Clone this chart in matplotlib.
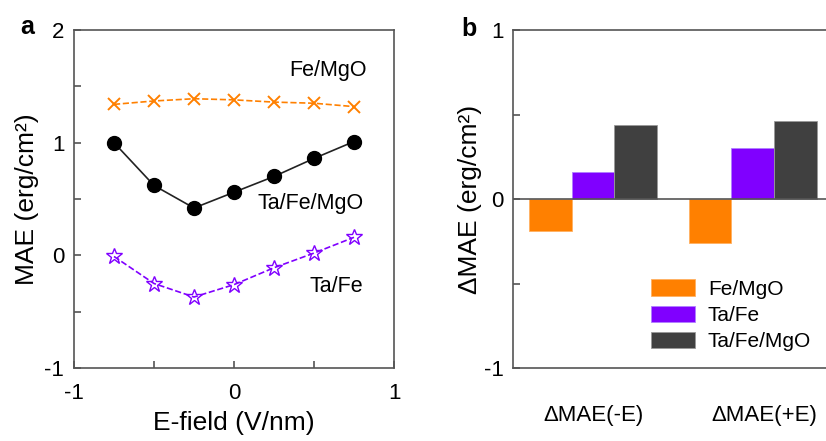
import numpy as np
import matplotlib
matplotlib.use('Agg')
from matplotlib import pyplot as plt
from matplotlib.ticker import MultipleLocator

plt.rcParams['font.family'] = ['Liberation Sans', 'DejaVu Sans']
plt.rcParams['axes.unicode_minus'] = False

# panel a data
efield = [-0.75, -0.5, -0.25, 0, 0.25, 0.5, 0.75]
mae_femgo = [1.34, 1.37, 1.39, 1.38, 1.36, 1.35, 1.32]
mae_tafemgo = [1.00, 0.62, 0.42, 0.56, 0.70, 0.86, 1.01]
mae_tafe = [-0.01, -0.25, -0.37, -0.26, -0.11, 0.02, 0.16]

# panel b data
groups = ['\u0394MAE(-E)', '\u0394MAE(+E)']
d_femgo = [-0.19, -0.26]
d_tafe = [0.16, 0.30]
d_tafemgo = [0.44, 0.46]

orange = '#FF8000'
purple = '#8000FF'
dark = '#404040'
spine_c = '#555555'

fig = plt.figure(figsize=(8.26, 4.41), dpi=100)
ax1 = fig.add_axes([74/826, 73/441, 320/826, 338/441])
ax2 = fig.add_axes([513.3/826, 73/441, 319.2/826, 338/441])

for ax in (ax1, ax2):
    for s in ax.spines.values():
        s.set_color(spine_c)
        s.set_linewidth(1.2)
    ax.tick_params(which='both', direction='in', color=spine_c, width=1.2,
                   labelsize=16)
    ax.tick_params(which='major', length=5)
    ax.tick_params(which='minor', length=5)

# ---- panel a ----
ax1.plot(efield, mae_femgo, ls='--', color=orange, marker='x', ms=9, mew=1.4, lw=1.2)
ax1.plot(efield, mae_tafemgo, ls='-', color='#222222', marker='o', ms=10,
         mfc='black', mec='black', lw=1.2)
ax1.plot(efield, mae_tafe, ls='--', color=purple, marker='*', ms=12,
         mfc='none', mec=purple, mew=1.0, lw=1.2)
ax1.set_xlim(-1, 1)
ax1.set_ylim(-1, 2)
ax1.xaxis.set_major_locator(MultipleLocator(1))
ax1.xaxis.set_minor_locator(MultipleLocator(0.5))
ax1.yaxis.set_major_locator(MultipleLocator(1))
ax1.yaxis.set_minor_locator(MultipleLocator(0.5))
ax1.tick_params(axis='x', which='both', pad=11)
ax1.tick_params(axis='y', which='both', pad=7)
ax1.set_xlabel('E-field (V/nm)', fontsize=19, labelpad=5)
ax1.set_ylabel('MAE (erg/cm\u00b2)', fontsize=19, labelpad=4)
ax1.text(0.83, 1.64, 'Fe/MgO', ha='right', va='center', fontsize=15.5)
ax1.text(0.81, 0.46, 'Ta/Fe/MgO', ha='right', va='center', fontsize=15.5)
ax1.text(0.81, -0.275, 'Ta/Fe', ha='right', va='center', fontsize=15.5)
fig.text(27/826, 1 - 27/441, 'a', fontsize=18, fontweight='bold', ha='center', va='center')

# ---- panel b ----
x = np.arange(len(groups))
w = 0.2667
ax2.bar(x - w, d_femgo, w, color=orange, edgecolor='#ffb060', lw=0.6, label='Fe/MgO')
ax2.bar(x, d_tafe, w, color=purple, edgecolor='#b080ff', lw=0.6, label='Ta/Fe')
ax2.bar(x + w, d_tafemgo, w, color=dark, edgecolor='#999999', lw=0.6, label='Ta/Fe/MgO')
ax2.axhline(0, color=spine_c, lw=1.2)
ax2.set_xlim(-0.5, 1.5)
ax2.set_ylim(-1, 1)
ax2.yaxis.set_major_locator(MultipleLocator(1))
ax2.yaxis.set_minor_locator(MultipleLocator(0.5))
ax2.set_xticks([0, 1.07])
ax2.set_xticklabels(groups)
ax2.tick_params(axis='x', length=0, pad=27)
ax2.tick_params(axis='y', which='both', pad=7)
ax2.spines['right'].set_visible(False)
ax2.set_ylabel('\u0394MAE (erg/cm\u00b2)', fontsize=19, labelpad=1)
ax2.legend(loc='upper left', bbox_to_anchor=(0.43, 0.262), frameon=False,
           fontsize=15, handlelength=2.15, handleheight=0.85,
           handletextpad=0.6, labelspacing=0.32, borderpad=0, borderaxespad=0)
fig.text(469/826, 1 - 29/441, 'b', fontsize=18, fontweight='bold', ha='center', va='center')

fig.savefig('out.png', dpi=100)
